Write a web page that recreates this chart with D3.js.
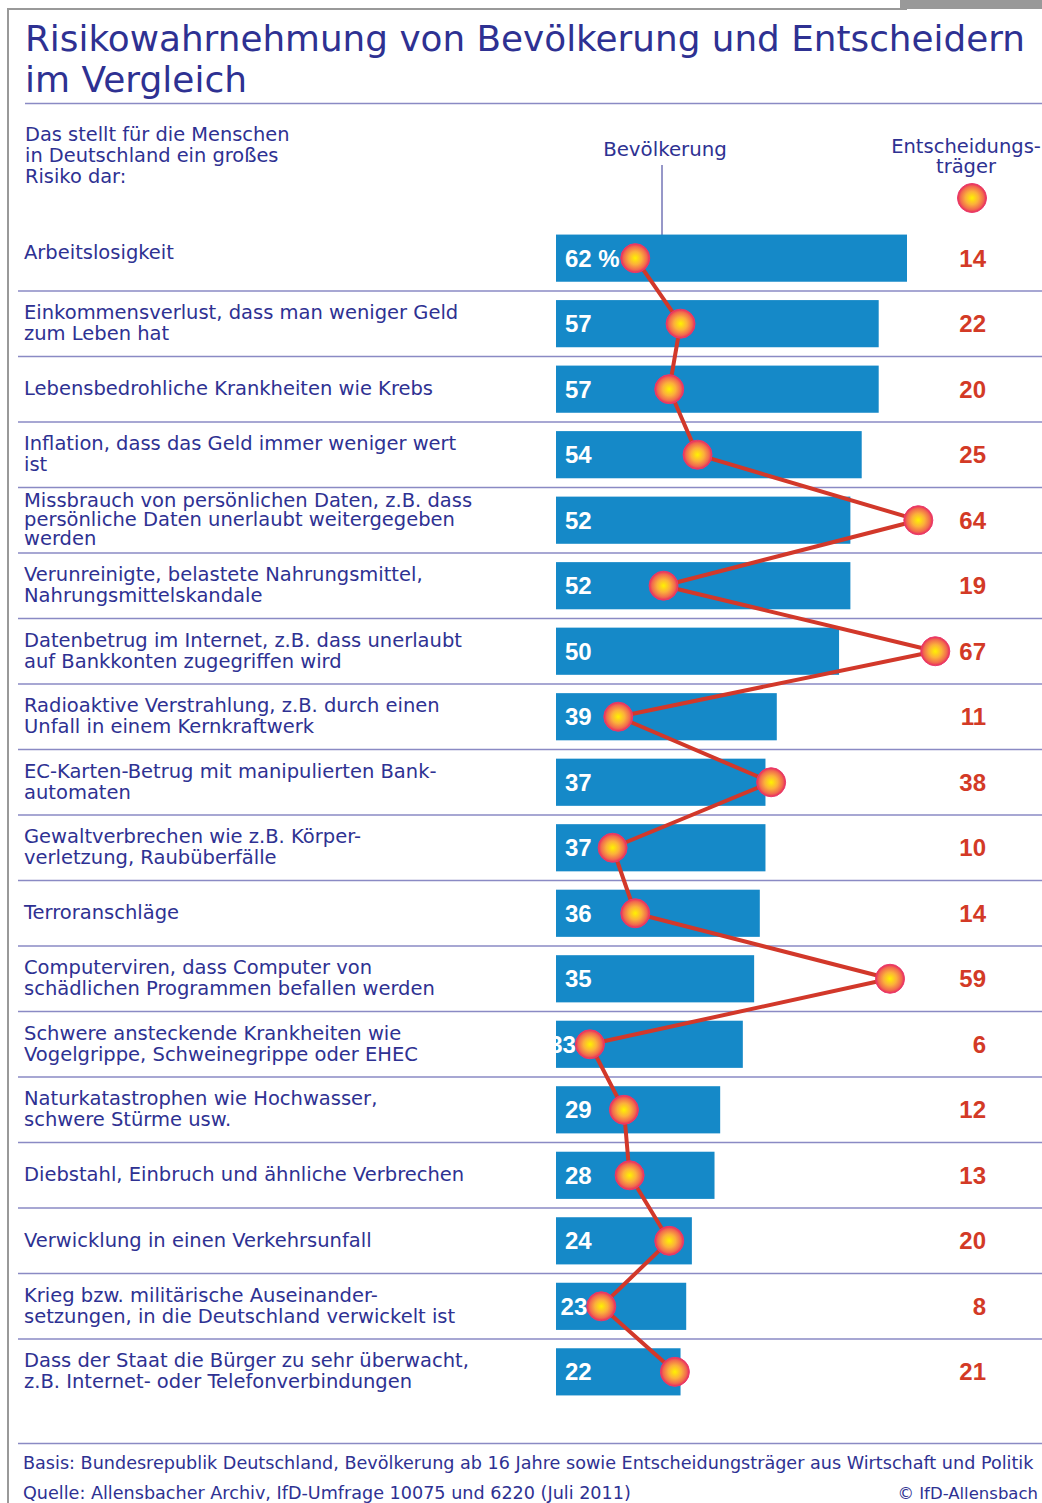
<!DOCTYPE html>
<html>
<head>
<meta charset="utf-8">
<script src="https://cdn.jsdelivr.net/npm/d3@7"></script>
<style>
  body { margin: 0; background: #fff; }
  svg { display: block; font-family: "DejaVu Sans", sans-serif; }
</style>
</head>
<body>
<script>
// data
const categories = [
    ["Arbeitslosigkeit"],
    ["Einkommensverlust, dass man weniger Geld", "zum Leben hat"],
    ["Lebensbedrohliche Krankheiten wie Krebs"],
    ["Inflation, dass das Geld immer weniger wert", "ist"],
    ["Missbrauch von persönlichen Daten, z.B. dass", "persönliche Daten unerlaubt weitergegeben", "werden"],
    ["Verunreinigte, belastete Nahrungsmittel,", "Nahrungsmittelskandale"],
    ["Datenbetrug im Internet, z.B. dass unerlaubt", "auf Bankkonten zugegriffen wird"],
    ["Radioaktive Verstrahlung, z.B. durch einen", "Unfall in einem Kernkraftwerk"],
    ["EC-Karten-Betrug mit manipulierten Bank-", "automaten"],
    ["Gewaltverbrechen wie z.B. Körper-", "verletzung, Raubüberfälle"],
    ["Terroranschläge"],
    ["Computerviren, dass Computer von", "schädlichen Programmen befallen werden"],
    ["Schwere ansteckende Krankheiten wie", "Vogelgrippe, Schweinegrippe oder EHEC"],
    ["Naturkatastrophen wie Hochwasser,", "schwere Stürme usw."],
    ["Diebstahl, Einbruch und ähnliche Verbrechen"],
    ["Verwicklung in einen Verkehrsunfall"],
    ["Krieg bzw. militärische Auseinander-", "setzungen, in die Deutschland verwickelt ist"],
    ["Dass der Staat die Bürger zu sehr überwacht,", "z.B. Internet- oder Telefonverbindungen"]
];
const bevoelkerung = [62, 57, 57, 54, 52, 52, 50, 39, 37, 37, 36, 35, 33, 29, 28, 24, 23, 22];
const entscheider = [14, 22, 20, 25, 64, 19, 67, 11, 38, 10, 14, 59, 6, 12, 13, 20, 8, 21];

const titleLines = ["Risikowahrnehmung von Bevölkerung und Entscheidern", "im Vergleich"];
const introLines = ["Das stellt für die Menschen", "in Deutschland ein großes", "Risiko dar:"];
const entLabel = ["Entscheidungs-", "träger"];
const footBasis = "Basis: Bundesrepublik Deutschland, Bevölkerung ab 16 Jahre sowie Entscheidungsträger aus Wirtschaft und Politik";
const footSource = "Quelle: Allensbacher Archiv, IfD-Umfrage 10075 und 6220 (Juli 2011)";

const width = 1042, height = 1503;
const blue = "#2e3192", barBlue = "#1589c8", red = "#d33a26", sepColor = "#8a8ac4";
const numFont = "'Liberation Sans', Arial, sans-serif";

const svg = d3.select("body").append("svg")
    .attr("width", width)
    .attr("height", height);

// gradient for dots
const grad = svg.append("defs").append("radialGradient")
    .attr("id", "dot")
    .attr("cx", "50%").attr("cy", "50%").attr("r", "50%");
grad.append("stop").attr("offset", "0%").attr("stop-color", "#fff200");
grad.append("stop").attr("offset", "45%").attr("stop-color", "#fbb03b");
grad.append("stop").attr("offset", "80%").attr("stop-color", "#f16a4e");
grad.append("stop").attr("offset", "100%").attr("stop-color", "#e9285f");

//frame
svg.append("rect").attr("x", 7).attr("y", 8).attr("width", 900).attr("height", 2).attr("fill", "#999");
svg.append("rect").attr("x", 900).attr("y", 0).attr("width", 142).attr("height", 9).attr("fill", "#999");
svg.append("rect").attr("x", 7).attr("y", 8).attr("width", 2).attr("height", height).attr("fill", "#999");

//title
svg.append("g").selectAll("text")
    .data(titleLines)
    .join("text")
    .attr("x", 25)
    .attr("y", (d, i) => 51 + i * 41)
    .attr("fill", blue)
    .attr("font-size", 35)
    .attr("textLength", (d, i) => i === 0 ? 1000 : 222)
    .attr("lengthAdjust", "spacingAndGlyphs")
    .text(d => d);

svg.append("line").attr("x1", 25).attr("x2", width).attr("y1", 103.5).attr("y2", 103.5)
    .attr("stroke", sepColor).attr("stroke-width", 1.5);

// header texts
svg.append("g").selectAll("text")
    .data(introLines)
    .join("text")
    .attr("x", 25)
    .attr("y", (d, i) => 141 + i * 21)
    .attr("fill", blue)
    .attr("font-size", 19.4)
    .text(d => d);

svg.append("text")
    .attr("x", 665).attr("y", 156)
    .attr("text-anchor", "middle")
    .attr("fill", blue).attr("font-size", 19.8)
    .text("Bevölkerung");
svg.append("line").attr("x1", 662).attr("x2", 662).attr("y1", 165).attr("y2", 241)
    .attr("stroke", blue).attr("stroke-width", 1);

svg.append("g").selectAll("text")
    .data(entLabel)
    .join("text")
    .attr("x", 966)
    .attr("y", (d, i) => 153 + i * 20)
    .attr("text-anchor", "middle")
    .attr("fill", blue)
    .attr("font-size", 19.5)
    .text(d => d);
svg.append("circle").attr("cx", 972).attr("cy", 198).attr("r", 14.5)
    .attr("fill", "url(#dot)").attr("stroke", "#ea3a6a").attr("stroke-width", 1);

//scale
const rows = d3.range(categories.length);
const yScale = d3.scaleBand().domain(rows).range([225.4, 1404.6]).paddingInner(0.28).paddingOuter(0.14);
const step = yScale.step();
const xScale = d3.scaleLinear().domain([0, 62]).range([556, 907]);
const yMid = i => yScale(i) + yScale.bandwidth() / 2;

// separators
svg.append("g").selectAll("line")
    .data(rows.slice(1))
    .join("line")
    .attr("x1", 18).attr("x2", width)
    .attr("y1", i => 225.4 + i * step).attr("y2", i => 225.4 + i * step)
    .attr("stroke", sepColor).attr("stroke-width", 1.5);

// category labels
const catG = svg.append("g").selectAll("text")
    .data(rows)
    .join("text")
    .attr("fill", blue)
    .attr("font-size", 19.5);
catG.each(function (i) {
    const lines = categories[i];
    const lh = lines.length > 2 ? 19 : 21;
    const top = yMid(i) - (lines.length - 1) * lh / 2 + 6 - (i === 0 ? 5 : 0);
    d3.select(this).selectAll("tspan")
        .data(lines)
        .join("tspan")
        .attr("x", 24)
        .attr("y", (d, k) => top + k * lh)
        .text(d => d);
});

// bars
svg.append("g").selectAll("rect")
    .data(rows)
    .join("rect")
    .attr("x", xScale(0))
    .attr("y", i => yScale(i))
    .attr("width", i => xScale(bevoelkerung[i]) - xScale(0))
    .attr("height", yScale.bandwidth())
    .attr("fill", barBlue);

// bar value labels
const valG = svg.append("g").selectAll("text")
    .data(rows)
    .join("text")
    .attr("y", i => yMid(i) + 8.5)
    .attr("fill", "#fff")
    .attr("font-family", numFont)
    .attr("font-size", 24)
    .attr("font-weight", "bold")
    .text(i => i === 0 ? bevoelkerung[i] + " %" : bevoelkerung[i]);
valG.each(function (i) {
    const w = this.getComputedTextLength();
    const x = Math.min(565, xScale(entscheider[i]) - 14 - w);
    d3.select(this).attr("x", x);
});

// connecting line
const line = d3.line().x(i => xScale(entscheider[i])).y(i => yMid(i));
svg.append("path")
    .datum(rows)
    .attr("d", line)
    .attr("fill", "none")
    .attr("stroke", "#d2382a")
    .attr("stroke-width", 4)
    .attr("stroke-linejoin", "round");

// dots
svg.append("g").selectAll("circle")
    .data(rows)
    .join("circle")
    .attr("cx", i => xScale(entscheider[i]))
    .attr("cy", i => yMid(i))
    .attr("r", 14.5)
    .attr("fill", "url(#dot)")
    .attr("stroke", "#ea3a6a")
    .attr("stroke-width", 1);

// entscheider values
svg.append("g").selectAll("text")
    .data(rows)
    .join("text")
    .attr("x", 986)
    .attr("y", i => yMid(i) + 8.5)
    .attr("text-anchor", "end")
    .attr("fill", red)
    .attr("font-family", numFont)
    .attr("font-size", 24)
    .attr("font-weight", "bold")
    .text(i => entscheider[i]);

// footer
svg.append("line").attr("x1", 18).attr("x2", width).attr("y1", 1443.5).attr("y2", 1443.5)
    .attr("stroke", sepColor).attr("stroke-width", 1.5);
svg.append("text").attr("x", 23).attr("y", 1469)
    .attr("fill", blue).attr("font-size", 17.6)
    .text(footBasis);
svg.append("text").attr("x", 23).attr("y", 1499)
    .attr("fill", blue).attr("font-size", 17.6)
    .text(footSource);
svg.append("text").attr("x", 1038).attr("y", 1499)
    .attr("text-anchor", "end")
    .attr("fill", blue).attr("font-size", 16.5)
    .text("© IfD-Allensbach");
</script>
</body>
</html>
